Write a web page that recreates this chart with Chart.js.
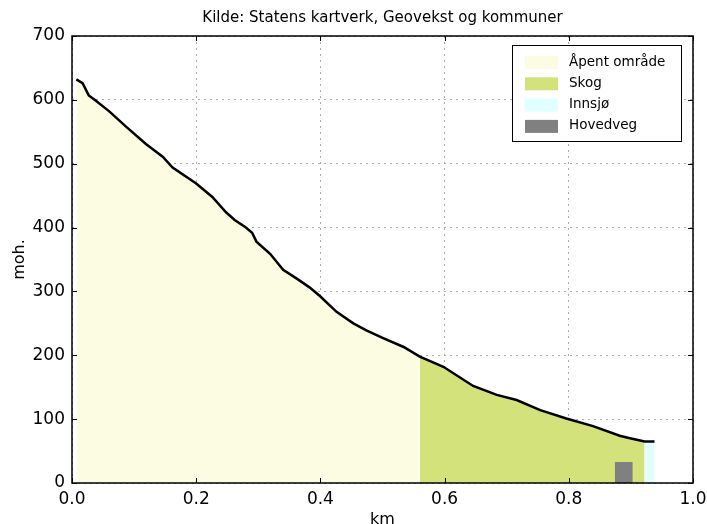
<!DOCTYPE html>
<html lang="no">
<head>
<meta charset="utf-8">
<title>Høydeprofil</title>
<script src="https://cdn.jsdelivr.net/npm/chart.js@4.4.0/dist/chart.umd.min.js"></script>
<style>
  html, body { margin: 0; padding: 0; background: #fff; }
  #wrap { width: 707px; height: 524px; }
</style>
</head>
<body>
<div id="wrap"><canvas id="profil"></canvas></div>
<script>
// height profile: distance (km) and height (moh.)
const dist = [0.007, 0.017, 0.027, 0.038, 0.06, 0.087, 0.119, 0.146, 0.162, 0.2,
              0.226, 0.248, 0.262, 0.28, 0.29, 0.297, 0.319, 0.34, 0.362, 0.383,
              0.4, 0.426, 0.453, 0.474, 0.501, 0.534, 0.56, 0.598, 0.646, 0.684,
              0.716, 0.754, 0.796, 0.839, 0.882, 0.895, 0.922, 0.938];
const elev = [632, 626, 607, 599, 582, 558, 531, 511, 494, 469,
              448, 424, 412, 400, 392, 378, 359, 334, 320, 306,
              292, 268, 250, 239, 227, 213, 198, 182, 152, 138,
              130, 114, 101, 89, 74, 71, 65, 65];

// land cover along the profile
const coverName = ['Åpent område', 'Skog', 'Innsjø'];
const coverFrom = [0, 0.56, 0.922];
const coverTo = [0.56, 0.922, 0.938];

// main road crossing
const roadName = 'Hovedveg';
const roadX = [0.874, 0.903];
const roadY = [33, 33];

const xTicks = [0, 0.2, 0.4, 0.6, 0.8, 1.0];
const yTicks = [0, 100, 200, 300, 400, 500, 600, 700];

const title = 'Kilde: Statens kartverk, Geovekst og kommuner';

const coverColor = ['#fcfce2', '#d3e27b', '#e0ffff'];
const roadColor = '#808080';
const FONT = 'DejaVu Sans';

const points = dist.map((d, i) => ({ x: d, y: elev[i] }));

const coverSets = coverName.map((name, i) => ({
    label: name,
    data: points.filter(p => p.x >= coverFrom[i] && p.x <= coverTo[i]),
    backgroundColor: coverColor[i],
    borderWidth: 0,
    pointRadius: 0,
    fill: 'origin',
    order: 3
}));

const roadSet = {
    label: roadName,
    data: roadX.map((x, i) => ({ x: x, y: roadY[i] })),
    backgroundColor: roadColor,
    borderWidth: 0,
    pointRadius: 0,
    fill: 'origin',
    order: 2
};

const lineSet = {
    label: 'profil',
    data: points,
    borderColor: '#000',
    borderWidth: 2.5,
    pointRadius: 0,
    fill: false,
    order: 0
};

// frame, inward ticks, title over the plot and boxed legend like the original
const framePlugin = {
    id: 'frame',
    afterDraw(chart) {
        const ctx = chart.ctx, a = chart.chartArea, sx = chart.scales.x, sy = chart.scales.y;
        ctx.save();
        ctx.strokeStyle = '#000';
        ctx.lineWidth = 1;
        ctx.beginPath();
        xTicks.forEach(v => {
            const px = Math.round(sx.getPixelForValue(v)) + 0.5;
            ctx.moveTo(px, a.bottom); ctx.lineTo(px, a.bottom - 5);
            ctx.moveTo(px, a.top); ctx.lineTo(px, a.top + 5);
        });
        yTicks.forEach(v => {
            const py = Math.round(sy.getPixelForValue(v)) + 0.5;
            ctx.moveTo(a.left, py); ctx.lineTo(a.left + 5, py);
            ctx.moveTo(a.right, py); ctx.lineTo(a.right - 5, py);
        });
        ctx.stroke();
        ctx.lineWidth = 1.5;
        ctx.strokeRect(a.left, a.top, a.right - a.left, a.bottom - a.top);

        // title
        ctx.fillStyle = '#000';
        ctx.font = '15px "' + FONT + '"';
        ctx.textAlign = 'center';
        ctx.textBaseline = 'middle';
        ctx.fillText(title, (a.left + a.right) / 2, 18);

        // legend
        const names = coverName.concat([roadName]);
        const colors = coverColor.concat([roadColor]);
        const bx = a.right - 181, by = a.top + 9, bw = 169, bh = 96;
        ctx.fillStyle = '#fff';
        ctx.fillRect(bx, by, bw, bh);
        ctx.lineWidth = 1;
        ctx.strokeRect(bx + 0.5, by + 0.5, bw, bh);
        ctx.font = '13.5px "' + FONT + '"';
        ctx.textAlign = 'left';
        names.forEach((n, i) => {
            const cy = by + 17 + i * 21.3;
            ctx.fillStyle = colors[i];
            ctx.fillRect(bx + 13, cy - 6, 33, 13);
            ctx.fillStyle = '#000';
            ctx.fillText(n, bx + 57, cy);
        });
        ctx.restore();
    }
};

new Chart(document.getElementById('profil'), {
    type: 'line',
    data: { datasets: [lineSet, roadSet].concat(coverSets) },
    options: {
        responsive: true,
        maintainAspectRatio: false,
        animation: false,
        layout: { padding: { left: 0, right: 14, top: 36, bottom: 0 } },
        plugins: {
            legend: { display: false },
            tooltip: { enabled: false },
            title: { display: false }
        },
        scales: {
            x: {
                type: 'linear',
                min: 0,
                max: 1,
                z: 1,
                afterBuildTicks: s => { s.ticks = xTicks.map(v => ({ value: v })); },
                afterFit: s => { s.height = 41; s.paddingLeft = 0; s.paddingRight = 0; },
                ticks: {
                    color: '#000',
                    padding: 6,
                    maxRotation: 0,
                    font: { family: FONT, size: 17 },
                    callback: v => v.toFixed(1)
                },
                grid: { color: '#aaa', drawTicks: false },
                border: { display: false, dash: [2, 4] },
                title: {
                    display: true,
                    text: 'km',
                    color: '#000',
                    font: { family: FONT, size: 16 },
                    padding: { top: 0, bottom: -5 }
                }
            },
            y: {
                min: 0,
                max: 700,
                z: 1,
                afterBuildTicks: s => { s.ticks = yTicks.map(v => ({ value: v })); },
                afterFit: s => { s.width = 72; s.paddingTop = 0; s.paddingBottom = 0; },
                ticks: {
                    color: '#000',
                    padding: 7,
                    font: { family: FONT, size: 17 }
                },
                grid: { color: '#aaa', drawTicks: false },
                border: { display: false, dash: [2, 4] },
                title: {
                    display: true,
                    text: 'moh.',
                    color: '#000',
                    font: { family: FONT, size: 16 },
                    padding: { top: 10, bottom: 0 }
                }
            }
        }
    },
    plugins: [framePlugin]
});
</script>
</body>
</html>
